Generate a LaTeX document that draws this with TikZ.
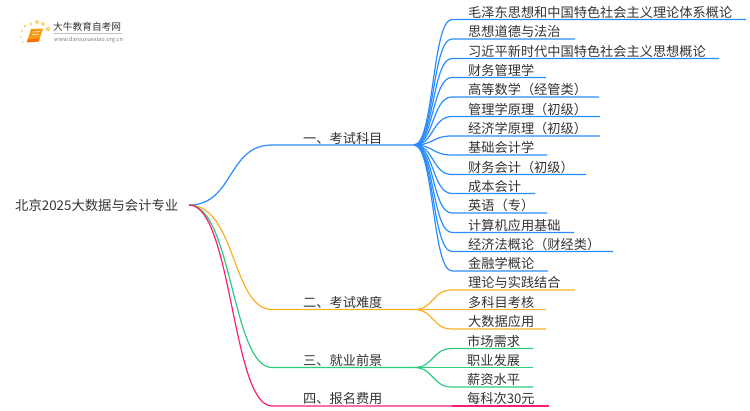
\documentclass[tikz,border=0pt]{standalone}
\usepackage{fontspec}
\setmainfont{Noto Sans CJK SC}
\definecolor{cblue}{HTML}{2A8CFF}
\definecolor{corange}{HTML}{FBB024}
\definecolor{cgreen}{HTML}{2CCB7F}
\definecolor{cpink}{HTML}{FA1E78}
\definecolor{ctext}{HTML}{333333}
\definecolor{cbook}{HTML}{F59A12}
\definecolor{cdot}{HTML}{FCD676}
\tikzset{
    topic/.style={
           anchor=base west,
           inner sep=0pt,
           text=ctext,
           font=\fontsize{13.2}{15}\selectfont,
           },
    logotext/.style={
           anchor=base west,
           inner sep=0pt,
           text=ctext,
           },
    branch/.style={line width=1.2pt},
}

\begin{document}
\begin{tikzpicture}[x=1pt,y=-1pt]
    \useasboundingbox (0,0) rectangle (750,410);

    % logo
    \fill[cbook] (31,29) -- (43,28.5) -- (39,41) -- (27,42) -- cycle;
    \fill[orange!85!red] (27.5,39.5) -- (39.5,38.5) -- (39,41.5) -- (27,42.5) -- cycle;
    \draw[white,line width=0.6pt] (33,32) -- (40,31.6) (32.4,34.5) -- (39.4,34.1);
    \foreach \x/\y/\r in {48/29/2.4,43/24/2,37/22/2,31/24/1.7,25/26/1.5,22/31/1.2,21/37/1,23/42/0.9}
        \fill[cdot] (\x,\y) circle (\r);
    \node[logotext,font=\fontsize{9.7}{11}\selectfont] (logoname) at (53,30) {大牛教育自考网};
    \node[logotext,font=\fontsize{5.7}{7}\selectfont,text=gray] (logourl) at (54,41) {www.daniuxuexiao.org.cn};
    \draw[black!25,line width=0.4pt] (logoname.base west)+(1,3.2) -- +(69,3.2);

    % root
    \node[topic,font=\fontsize{13.35}{15}\selectfont] (root) at (15,210) {北京2025大数据与会计专业};
    \coordinate (rootend) at (189,205);

    % first level
    \node[topic] (s1) at (303,143) {一、考试科目};
    \node[topic] (s2) at (303,307) {二、考试难度};
    \node[topic] (s3) at (303,365) {三、就业前景};
    \node[topic] (s4) at (303,403) {四、报名费用};
    \coordinate (h1) at (272,145);
    \coordinate (e1) at (414,145);
    \coordinate (h2) at (272,309.5);
    \coordinate (e2) at (414,309.5);
    \coordinate (h3) at (272,367.5);
    \coordinate (e3) at (414,367.5);
    \coordinate (h4) at (272,406);
    \coordinate (e4) at (452,406);

    \draw[branch,cblue] (rootend) .. controls (234,205) and (227,145) .. (h1) -- (e1);
    \draw[branch,corange] (rootend) .. controls (236,205) and (232,309.5) .. (h2) -- (e2);
    \draw[branch,cgreen] (rootend) .. controls (232,205) and (232,367.5) .. (h3) -- (e3);
    \draw[branch,cpink] (rootend) .. controls (232,205) and (232,406) .. (h4) -- (e4);

    % leaves of the first topic
    \foreach \name/\txt/\yy/\xe in {
        a/毛泽东思想和中国特色社会主义理论体系概论/19.5/746,
        b/思想道德与法治/39/575,
        c/习近平新时代中国特色社会主义思想概论/58.5/719,
        d/财务管理学/77.5/546,
        e/高等数学（经管类）/97/599,
        f/管理学原理（初级）/116.5/600,
        g/经济学原理（初级）/136/600,
        h/基础会计学/155/547,
        i/财务会计（初级）/174.5/586,
        j/成本会计/193.5/535,
        k/英语（专）/213/547,
        l/计算机应用基础/232.5/574,
        m/经济法概论（财经类）/251.5/613,
        n/金融学概论/271/548}
    {
        \node[topic] (\name) at (468,\yy-2.5) {\txt};
        \coordinate (\name end) at (\xe,\yy);
        \draw[branch,cblue] (e1) .. controls (434,145) and (432,\yy) .. (452,\yy) -- (\name end);
    }

    % leaves of the second topic
    \foreach \name/\txt/\yy/\xe in {
        o/理论与实践结合/290/575,
        p/多科目考核/309.5/546,
        q/大数据应用/329/546}
    {
        \node[topic] (\name) at (468,\yy-2.5) {\txt};
        \coordinate (\name end) at (\xe,\yy);
        \draw[branch,corange] (e2) .. controls (434,309.5) and (432,\yy) .. (452,\yy) -- (\name end);
    }

    % leaves of the third topic
    \foreach \name/\txt/\yy/\xe in {
        r/市场需求/348.5/533,
        s/职业发展/367.5/533,
        t/薪资水平/387/533}
    {
        \node[topic] (\name) at (467,\yy-2.5) {\txt};
        \coordinate (\name end) at (\xe,\yy);
        \draw[branch,cgreen] (e3) .. controls (434,367.5) and (432,\yy) .. (452,\yy) -- (\name end);
    }

    % leaf of the last topic
    \node[topic] (u) at (467,403) {每科次30元};
    \coordinate (uend) at (549,406);
    \draw[branch,cpink] (e4) -- (uend);
\end{tikzpicture}
\end{document}
